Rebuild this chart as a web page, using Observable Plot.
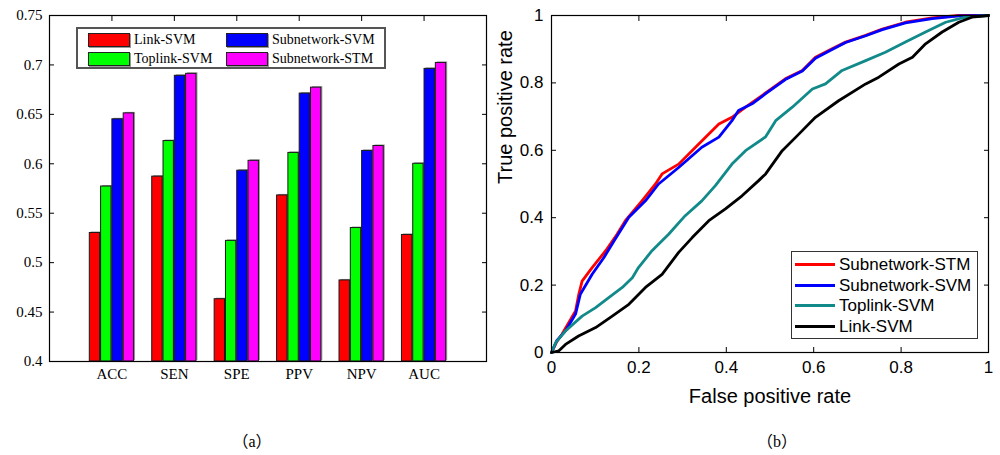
<!DOCTYPE html>
<html>
<head>
<meta charset="utf-8">
<script src="https://cdn.jsdelivr.net/npm/d3@7"></script>
<script src="https://cdn.jsdelivr.net/npm/@observablehq/plot@0.6"></script>
<style>
  body { margin: 0; background: #fff; }
  #wrap { position: relative; width: 1000px; height: 455px; overflow: hidden; background: #fff; }
  #pa { position: absolute; left: 0; top: 0; }
  #pb { position: absolute; left: 490px; top: 0; }
  .cap { position: absolute; top: 428px; width: 80px; text-align: center; font-family: "Liberation Serif", "Noto Sans CJK SC", serif; font-size: 16px; color: #000; }
  #legA { position: absolute; left: 76px; top: 27px; width: 306px; height: 38px; border: 2px solid #555; background: #fff; font-family: "Liberation Serif", serif; font-size: 14px; }
  #legA .it { position: absolute; height: 14px; line-height: 14px; white-space: nowrap; }
  #legA .sw { display: inline-block; width: 40px; height: 12px; border: 1px solid #222; box-shadow: 1px 1px 0 #999; vertical-align: top; margin-right: 4px; }
  #legB { position: absolute; left: 791px; top: 251px; width: 185px; height: 86px; border: 1px solid #333; background: #fff; font-family: "Liberation Sans", Arial, sans-serif; font-size: 17px; }
  #legB .it { position: absolute; left: 3px; height: 20px; line-height: 20px; white-space: nowrap; }
  #legB .ln { display: inline-block; width: 40px; height: 3px; vertical-align: middle; margin-right: 4px; margin-top: -2px; }
</style>
</head>
<body>
<div id="wrap">
  <div id="pa"></div>
  <div id="pb"></div>
  <div id="legA"></div>
  <div id="legB"></div>
  <div class="cap" style="left:212px">（a）</div>
  <div class="cap" style="left:737px">（b）</div>
</div>
<script>
// ---------- Panel (a) data ----------
const categories = ["ACC", "SEN", "SPE", "PPV", "NPV", "AUC"];
const barSeries = ["Link-SVM", "Toplink-SVM", "Subnetwork-SVM", "Subnetwork-STM"];
const linkSVM       = [0.530, 0.587, 0.463, 0.568, 0.482, 0.528];
const toplinkSVM    = [0.577, 0.623, 0.522, 0.611, 0.535, 0.600];
const subnetworkSVM = [0.645, 0.689, 0.593, 0.671, 0.613, 0.696];
const subnetworkSTM = [0.651, 0.691, 0.603, 0.677, 0.618, 0.702];
const barColors = ["#ff0000", "#00ff00", "#0000ff", "#ff00ff"];
const yTicksA = [0.4, 0.45, 0.5, 0.55, 0.6, 0.65, 0.7, 0.75];

// ---------- Panel (b) data ----------
const rocSeries = ["Subnetwork-STM", "Subnetwork-SVM", "Toplink-SVM", "Link-SVM"];
const rocColors = ["#ff0000", "#0000ff", "#128a8a", "#000000"];
const stmFpr = [0, .012, .024, .040, .055, .062, .070, .093, .124, .150, .169, .207, .238, .253, .291, .337, .383, .413, .444, .490, .535, .574, .604, .642, .673, .719, .757, .810, .871, .932, 1];
const stmTpr = [0, .032, .054, .090, .123, .170, .212, .252, .302, .351, .391, .450, .500, .530, .559, .619, .678, .698, .728, .770, .812, .837, .876, .901, .921, .941, .960, .980, .993, 1.0, 1];
const svmFpr = [0, .012, .032, .055, .066, .093, .120, .143, .177, .215, .245, .291, .344, .383, .413, .428, .459, .490, .535, .574, .604, .642, .673, .719, .757, .810, .871, .932, 1];
const svmTpr = [0, .035, .064, .114, .173, .232, .282, .331, .401, .450, .500, .549, .609, .639, .688, .718, .738, .768, .810, .835, .873, .899, .920, .940, .958, .978, .991, .999, 1];
const topFpr = [0, .010, .032, .070, .101, .131, .162, .185, .199, .230, .268, .306, .344, .375, .413, .444, .490, .513, .551, .597, .627, .665, .719, .764, .810, .856, .902, .947, 1];
const topTpr = [0, .030, .064, .108, .133, .163, .193, .222, .252, .302, .351, .406, .450, .495, .559, .599, .640, .688, .728, .782, .797, .837, .866, .891, .921, .951, .980, .995, 1];
const linkFpr = [0, .017, .032, .062, .101, .139, .177, .215, .253, .291, .322, .360, .398, .436, .474, .490, .528, .566, .604, .657, .719, .749, .795, .826, .856, .894, .932, .962, 1];
const linkTpr = [0, .005, .024, .049, .074, .108, .143, .193, .232, .297, .341, .391, .426, .465, .510, .530, .599, .648, .698, .747, .797, .817, .856, .876, .916, .951, .980, .995, 1];
const ticksB = [0, 0.2, 0.4, 0.6, 0.8, 1];

const serif = "Liberation Serif, Times New Roman, serif";
const sans = "Liberation Sans, Arial, sans-serif";

// ---------- Panel (a) ----------
const barRows = [];
[linkSVM, toplinkSVM, subnetworkSVM, subnetworkSTM].forEach((vals, s) =>
  vals.forEach((v, i) => barRows.push({pos: i + 1, s, series: barSeries[s], value: v})));
const barStep = 0.181, barWidth = 0.166;
const catPos = categories.map((c, i) => i + 1);
const fmt = d3.format("~g");
const bx1 = d => d.pos + (d.s - 1.5) * barStep - barWidth / 2;
const bx2 = d => d.pos + (d.s - 1.5) * barStep + barWidth / 2;

const plotA = Plot.plot({
  width: 500, height: 395,
  marginLeft: 49, marginRight: 14, marginTop: 15, marginBottom: 34,
  x: {domain: [0, categories.length + 1]},
  y: {domain: [0.4, 0.75]},
  color: {domain: barSeries, range: barColors},
  style: {fontFamily: serif, fontSize: "15px", color: "#000", background: "transparent"},
  marks: [
    Plot.axisX(catPos, {anchor: "bottom", tickSize: -5, tickPadding: 12, tickFormat: d => categories[d - 1], label: null, fontFamily: serif, fontSize: 15}),
    Plot.axisX(catPos, {anchor: "top", tickSize: -5, tickFormat: () => "", label: null}),
    Plot.axisY(yTicksA, {anchor: "left", tickSize: -5, tickPadding: 12, tickFormat: fmt, label: null, fontFamily: serif, fontSize: 15}),
    Plot.axisY(yTicksA, {anchor: "right", tickSize: -5, tickFormat: () => "", label: null}),
    Plot.rectY(barRows, {x1: bx1, x2: bx2, y1: 0.4, y2: "value", fill: "#9a9a9a", dx: 1.5, dy: -1}),
    Plot.rectY(barRows, {x1: bx1, x2: bx2, y1: 0.4, y2: "value", fill: "series", stroke: "#1a1a1a", strokeWidth: 1}),
    Plot.frame({stroke: "#000", strokeWidth: 1.2})
  ]
});
document.getElementById("pa").appendChild(plotA);

// ---------- Panel (b) ----------
const rocRows = [];
[[stmFpr, stmTpr], [svmFpr, svmTpr], [topFpr, topTpr], [linkFpr, linkTpr]].forEach(([f, t], s) =>
  f.forEach((x, i) => rocRows.push({series: rocSeries[s], fpr: x, tpr: t[i]})));

const plotB = Plot.plot({
  width: 510, height: 410,
  marginLeft: 61, marginRight: 12, marginTop: 15, marginBottom: 58,
  x: {domain: [0, 1]},
  y: {domain: [0, 1]},
  color: {domain: rocSeries, range: rocColors},
  style: {fontFamily: sans, fontSize: "17px", color: "#000", background: "transparent"},
  marks: [
    Plot.axisX(ticksB, {anchor: "bottom", tickSize: -5, tickPadding: 13, tickFormat: fmt, label: null, fontFamily: sans, fontSize: 17}),
    Plot.axisX(ticksB, {anchor: "top", tickSize: -5, tickFormat: () => "", label: null}),
    Plot.axisY(ticksB, {anchor: "left", tickSize: -5, tickPadding: 13, tickFormat: fmt, label: null, fontFamily: sans, fontSize: 17}),
    Plot.axisY(ticksB, {anchor: "right", tickSize: -5, tickFormat: () => "", label: null}),
    Plot.line(rocRows, {x: "fpr", y: "tpr", z: "series", stroke: "series", strokeWidth: 2.8, strokeLinejoin: "round"}),
    Plot.frame({stroke: "#000", strokeWidth: 1.2}),
    Plot.text(["False positive rate"], {frameAnchor: "bottom", dy: 44, fontSize: 20, lineAnchor: "middle", fontFamily: sans}),
    Plot.text(["True positive rate"], {frameAnchor: "left", dx: -46, rotate: -90, fontSize: 20, fontFamily: sans})
  ]
});
document.getElementById("pb").appendChild(plotB);

// ---------- Legends ----------
const legA = document.getElementById("legA");
const legAPos = [[10, 4], [10, 23], [148, 4], [148, 23]];
barSeries.forEach((name, i) => {
  const it = document.createElement("div");
  it.className = "it";
  it.style.left = legAPos[i][0] + "px";
  it.style.top = legAPos[i][1] + "px";
  it.innerHTML = `<span class="sw" style="background:${barColors[i]}"></span>${name}`;
  legA.appendChild(it);
});
const legB = document.getElementById("legB");
rocSeries.forEach((name, i) => {
  const it = document.createElement("div");
  it.className = "it";
  it.style.top = (3 + i * 20.7) + "px";
  it.innerHTML = `<span class="ln" style="background:${rocColors[i]}"></span>${name}`;
  legB.appendChild(it);
});
</script>
</body>
</html>
